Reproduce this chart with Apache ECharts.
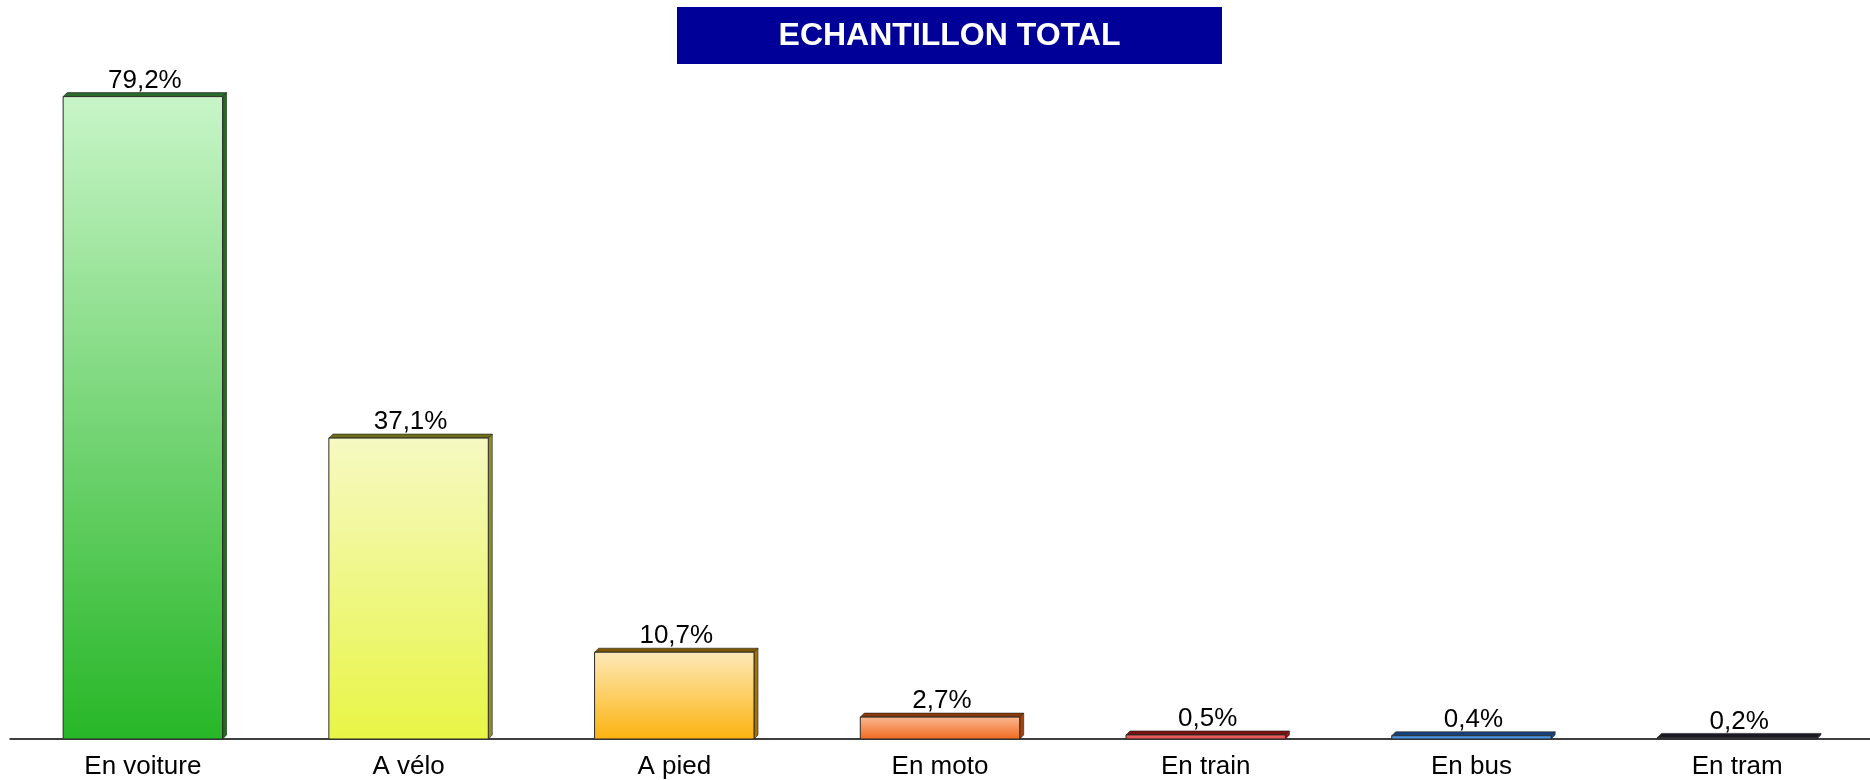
<!DOCTYPE html>
<html>
<head>
<meta charset="utf-8">
<script src="https://cdn.jsdelivr.net/npm/echarts@6/dist/echarts.min.js"></script>
<style>
html,body{margin:0;padding:0;background:#fff;}
#chart{width:1870px;height:780px;}
</style>
</head>
<body>
<div id="chart"></div>
<script>
var titleText = 'ECHANTILLON TOTAL';
var categories = ['En voiture', 'A vélo', 'A pied', 'En moto', 'En train', 'En bus', 'En tram'];
var values = [79.2, 37.1, 10.7, 2.7, 0.5, 0.4, 0.2];
var valueLabels = ['79,2%', '37,1%', '10,7%', '2,7%', '0,5%', '0,4%', '0,2%'];

// styles (front gradient top, front gradient bottom, side, top face)
var barStyles = [
  ['#c8f5c8', '#27b727', '#1d6b1d', '#2a6a2a'],
  ['#f6f9c2', '#e8f545', '#8e8e28', '#6e6e1c'],
  ['#fde9b8', '#fcb30f', '#a67200', '#7e5800'],
  ['#fbb993', '#f0691d', '#a2440c', '#8a3a0a'],
  ['#ee6a6a', '#e04848', '#8e1414', '#7a1010'],
  ['#5aa6ee', '#3a88dc', '#1a4a8a', '#16407a'],
  ['#4a4a58', '#30303c', '#20202a', '#1a1a22']
];

var chart = echarts.init(document.getElementById('chart'), null, {renderer: 'canvas'});
var depth = 4;

var option = {
  animation: false,
  backgroundColor: '#ffffff',
  grid: {left: 10, right: 0, top: 9, bottom: 40, containLabel: false},
  xAxis: {
    type: 'category',
    data: categories,
    axisLine: {show: true, lineStyle: {color: '#000000', width: 1.5}},
    axisTick: {show: false},
    axisLabel: {color: '#000000', fontSize: 26, fontFamily: 'Liberation Sans, Arial, sans-serif', margin: 15}
  },
  yAxis: {
    type: 'value', min: 0, max: 90,
    show: false,
    splitLine: {show: false}
  },
  graphic: [
    {type: 'rect', left: 677, top: 7, shape: {width: 545, height: 57}, style: {fill: '#000099'}, z: 10},
    {type: 'text', x: 949.5, y: 36, style: {text: titleText, fill: '#ffffff', font: 'bold 32px "Liberation Sans", Arial, sans-serif', align: 'center', verticalAlign: 'middle'}, z: 11}
  ],
  series: [{
    type: 'custom',
    data: values.map(function (v, i) { return [i, v]; }),
    z: 5,
    renderItem: function (params, api) {
      var idx = api.value(0), v = api.value(1);
      var base = api.coord([idx, 0]);
      var top = api.coord([idx, v]);
      var band = api.size([1, 0])[0];
      var w = band * 0.6;
      var x = base[0] - w / 2;
      var y = top[1];
      var h = base[1] - top[1];
      var s = barStyles[idx];
      var d = depth;
      return {
        type: 'group',
        children: [
          {type: 'polygon', shape: {points: [[x + w, y], [x + w + d, y - d], [x + w + d, base[1] - d], [x + w, base[1]]]},
            style: {fill: s[2], stroke: '#222', lineWidth: 0.6}},
          {type: 'polygon', shape: {points: [[x, y], [x + d, y - d], [x + w + d, y - d], [x + w, y]]},
            style: {fill: s[3], stroke: '#222', lineWidth: 0.6}},
          {type: 'rect', shape: {x: x, y: y, width: w, height: h},
            style: {fill: new echarts.graphic.LinearGradient(0, 0, 0, 1, [{offset: 0, color: s[0]}, {offset: 1, color: s[1]}]),
              stroke: '#2a2a2a', lineWidth: 1}},
          {type: 'text', x: base[0] + d / 2, y: y - d + 1,
            style: {text: valueLabels[idx], fill: '#000', font: '26px "Liberation Sans", Arial, sans-serif', align: 'center', verticalAlign: 'bottom'}}
        ]
      };
    }
  }]
};
chart.setOption(option);
</script>
</body>
</html>
